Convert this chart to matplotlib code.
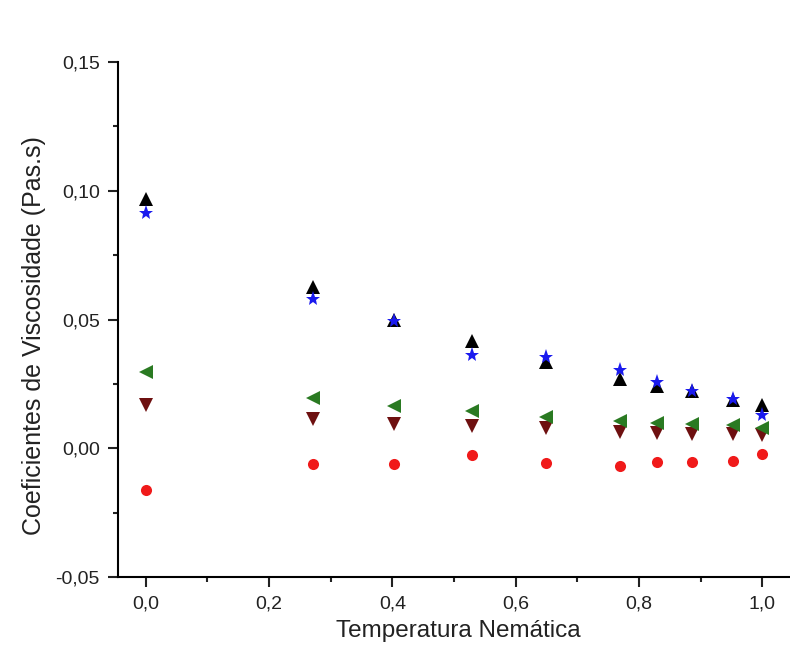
import matplotlib
matplotlib.use('Agg')
import matplotlib.pyplot as plt
from matplotlib.ticker import MultipleLocator, FuncFormatter

# temperatura nematica reduzida
temperatura = [0.0, 0.271, 0.403, 0.529, 0.649, 0.770, 0.829, 0.886, 0.952, 1.0]

# coeficientes de viscosidade (Pa.s)
coef_triangulo = [0.0968, 0.0625, 0.0500, 0.0416, 0.0336, 0.0270, 0.0243, 0.0222, 0.0188, 0.0167]
coef_estrela = [0.0912, 0.0578, 0.0496, 0.0362, 0.0356, 0.0303, 0.0258, 0.0223, 0.0190, 0.0128]
coef_esquerda = [0.0296, 0.0196, 0.0163, 0.0144, 0.0122, 0.0106, 0.0098, 0.0093, 0.0089, 0.0080]
coef_baixo = [0.0167, 0.0115, 0.0096, 0.0086, 0.0078, 0.0064, 0.0058, 0.0054, 0.0054, 0.0050]
coef_circulo = [-0.0163, -0.0060, -0.0060, -0.0027, -0.0059, -0.0070, -0.0053, -0.0053, -0.0049, -0.0021]

plt.rcParams['font.family'] = ['Liberation Sans', 'DejaVu Sans']

fig = plt.figure(figsize=(7.9, 6.53), dpi=100)
ax = fig.add_axes([0.1494, 0.1164, 0.8506, 0.7886])

ax.plot(temperatura, coef_circulo, 'o', color='#f01a1a', markersize=8, markeredgewidth=0)
ax.plot(temperatura, coef_baixo, 'v', color='#6e1010', markersize=10, markeredgewidth=0)
ax.plot(temperatura, coef_esquerda, '<', color='#2a7a22', markersize=10, markeredgewidth=0)
ax.plot(temperatura, coef_triangulo, '^', color='black', markersize=10, markeredgewidth=0)
ax.plot(temperatura, coef_estrela, '*', color='#1a1aee', markersize=11, markeredgewidth=0)

ax.set_xlim(-0.045, 1.045)
ax.set_ylim(-0.05, 0.15)

ax.spines['top'].set_visible(False)
ax.spines['right'].set_visible(False)
ax.spines['left'].set_linewidth(1.5)
ax.spines['bottom'].set_linewidth(1.5)

ax.xaxis.set_major_locator(MultipleLocator(0.2))
ax.xaxis.set_minor_locator(MultipleLocator(0.1))
ax.yaxis.set_major_locator(MultipleLocator(0.05))
ax.yaxis.set_minor_locator(MultipleLocator(0.025))

ax.xaxis.set_major_formatter(FuncFormatter(lambda v, p: f'{v:.1f}'.replace('.', ',').replace('-0,0', '0,0')))
ax.yaxis.set_major_formatter(FuncFormatter(lambda v, p: f'{v:.2f}'.replace('.', ',').replace('-0,00', '0,00')))

ax.tick_params(which='major', direction='out', length=7, width=1.5, labelsize=14, colors='#222222')
ax.tick_params(which='minor', direction='out', length=3.8, width=1.5, colors='#222222')
ax.tick_params(axis='x', which='major', pad=6)
ax.tick_params(axis='y', which='major', pad=6)

ax.set_xlabel('Temperatura Nemática', fontsize=17.5, color='#222222')
ax.set_ylabel('Coeficientes de Viscosidade (Pas.s)', fontsize=18, color='#222222')
ax.xaxis.set_label_coords(0.507, -0.083)
ax.yaxis.set_label_coords(-0.107, 0.468)

plt.savefig('out.png', dpi=100)
